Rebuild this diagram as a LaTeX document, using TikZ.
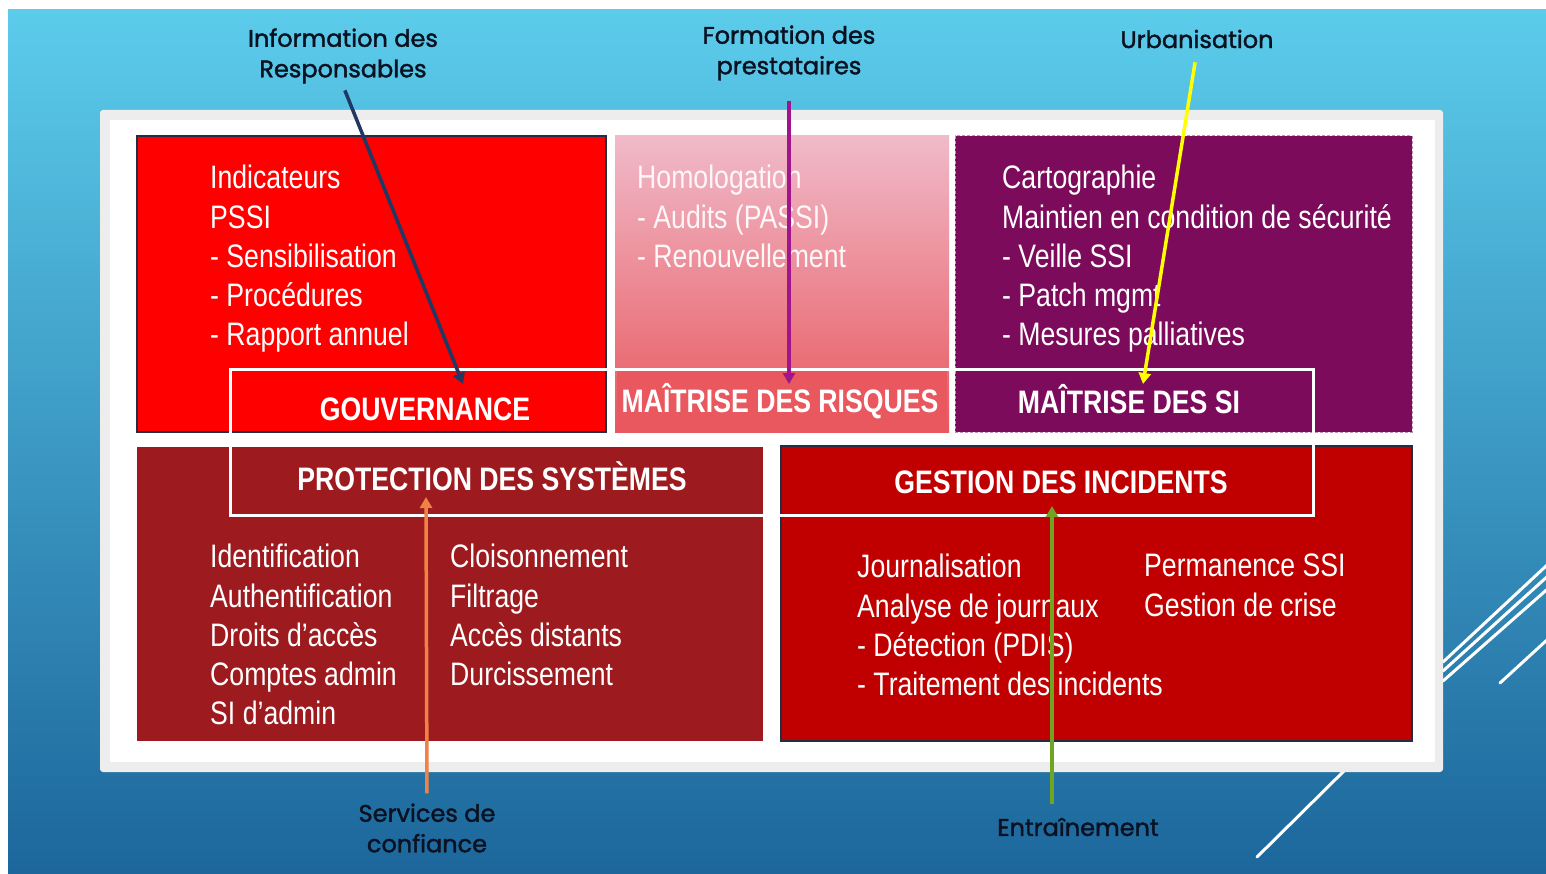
\documentclass[tikz,border=0pt]{standalone}
\usepackage{fontspec}
\usetikzlibrary{arrows.meta,positioning}
\newfontfamily\narrowfont[FakeStretch=0.82]{Liberation Sans}
\newfontfamily\gothicfont[FakeBold=1.6]{Poppins}
\definecolor{bgtop}{RGB}{92,204,235}
\definecolor{bgbot}{RGB}{28,102,155}
\definecolor{gouvred}{RGB}{255,0,0}
\definecolor{riskpink}{RGB}{240,186,201}
\definecolor{riskred}{RGB}{232,88,94}
\definecolor{sipurple}{RGB}{125,11,91}
\definecolor{protred}{RGB}{157,27,31}
\definecolor{gestred}{RGB}{192,0,0}
\definecolor{edgenavy}{RGB}{35,45,70}
\definecolor{labelnavy}{RGB}{10,18,34}
\definecolor{arrnavy}{RGB}{31,56,100}
\definecolor{arrpurple}{RGB}{160,20,140}
\definecolor{arryellow}{RGB}{255,255,0}
\definecolor{arrorange}{RGB}{240,130,70}
\definecolor{arrgreen}{RGB}{112,165,35}

\begin{document}
\begin{tikzpicture}[x=1pt, y=-1pt,
    panel/.style = {anchor=north west, inner sep=0pt, outer sep=0pt},
    body/.style = {anchor=north west, inner sep=0pt, align=left, text=white,
                   font={\narrowfont\fontsize{32.5}{39.3}\selectfont}},
    title/.style = {anchor=base, inner sep=0pt, text=white,
                    font={\narrowfont\bfseries\fontsize{32.5}{39}\selectfont}},
    tag/.style = {align=center, inner sep=2pt, text=labelnavy,
                  font={\gothicfont\fontsize{24}{30.5}\selectfont}},
    conn/.style = {line width=3.5pt, -{Triangle[length=11pt,width=12pt]}}]
    \useasboundingbox (0,0) rectangle (1546,874);
    % background
    \fill[white] (0,0) rectangle (1546,874);
    \shade[top color=bgtop, bottom color=bgbot] (8,10) rectangle (1546,874);
    \begin{scope}[white, line width=3pt, line cap=round]
        \draw (1443,662) -- (1560,553);
        \draw (1443,671) -- (1560,565);
        \draw (1443,681) -- (1560,578);
        \draw (1500,683) -- (1560,628);
        \draw (1257,857) -- (1350,765);
    \end{scope}
    % frame
    \node[panel, fill=black!7, rounded corners=3pt, minimum width=1343pt, minimum height=662pt] (frame) at (100,110) {};
    \fill[white] (110,120) rectangle (1435,762);

    % the five blocks
    \node[panel, fill=gouvred, draw=edgenavy, line width=1.5pt, minimum width=469pt, minimum height=296pt] (gouv) at (137,136) {};
    \node[panel, top color=riskpink, bottom color=riskred, minimum width=334pt, minimum height=296pt] (risk) at (615,136) {};
    \node[panel, fill=sipurple, draw=sipurple!45!white, densely dashed, line width=1pt, minimum width=457pt, minimum height=296pt] (si) at (955,136) {};
    \node[panel, fill=protred, minimum width=626pt, minimum height=294pt] (prot) at (137,447) {};
    \node[panel, fill=gestred, draw=edgenavy, line width=1.5pt, minimum width=631pt, minimum height=295pt] (gest) at (781,446) {};
    \fill[riskred] (617,371) rectangle (947,430);

    % white band round the titles
    \node[panel, draw=white, line width=3pt, minimum width=1083pt, minimum height=146pt] (band) at (230,369) {};

    % contents
    \node[body] (gouvtxt) at (210,165) {Indicateurs\\PSSI\\- Sensibilisation\\- Procédures\\- Rapport annuel};
    \node[body, text=white!88!riskpink] (risktxt) at (637,165) {Homologation\\- Audits (PASSI)\\- Renouvellement};
    \node[body] (sitxt) at (1002,165) {Cartographie\\Maintien en condition de sécurité\\- Veille SSI\\- Patch mgmt\\- Mesures palliatives};
    \node[body] (prottxta) at (210,544) {Identification\\Authentification\\Droits d’accès\\Comptes admin\\SI d’admin};
    \node[body] (prottxtb) at (450,544) {Cloisonnement\\Filtrage\\Accès distants\\Durcissement};
    \node[body] (gesttxta) at (857,554) {Journalisation\\Analyse de journaux\\- Détection (PDIS)\\- Traitement des incidents};
    \node[body] (gesttxtb) at (1144,554) {Permanence SSI\\Gestion de crise};

    % titles
    \node[title] (gouvttl) at (425,420) {GOUVERNANCE};
    \node[title] (riskttl) at (780,412) {MAÎTRISE DES RISQUES};
    \node[title] (sittl) at (1129,413) {MAÎTRISE DES SI};
    \node[title] (protttl) at (492,490) {PROTECTION DES SYSTÈMES};
    \node[title] (gestttl) at (1061,493) {GESTION DES INCIDENTS};

    % outside labels
    \node[tag] (info) at (343,56) {Information des\\Responsables};
    \node[tag] (form) at (789,53) {Formation des\\prestataires};
    \node[tag] (urba) at (1197,39) {Urbanisation};
    \node[tag] (serv) at (427,828) {Services de\\confiance};
    \node[tag] (entr) at (1078,827) {Entraînement};

    \coordinate (infotip) at (463,384);
    \coordinate (formtip) at (789,384);
    \coordinate (urbatip) at (1143,384);
    \coordinate (servtip) at (426,497);
    \coordinate (entrtip) at (1052,506);

    \draw[conn, arrnavy, shorten <=5pt] (info.south) -- (infotip);
    \draw[conn, arrpurple, shorten <=18pt] (form.south) -- (formtip);
    \draw[conn, arryellow, shorten <=12pt] (urba.south) -- (urbatip);
    \draw[conn, arrorange, shorten <=8pt] (serv.north) -- (servtip);
    \draw[conn, arrgreen, shorten <=12pt] (entrtip |- entr.north) -- (entrtip);
\end{tikzpicture}
\end{document}
